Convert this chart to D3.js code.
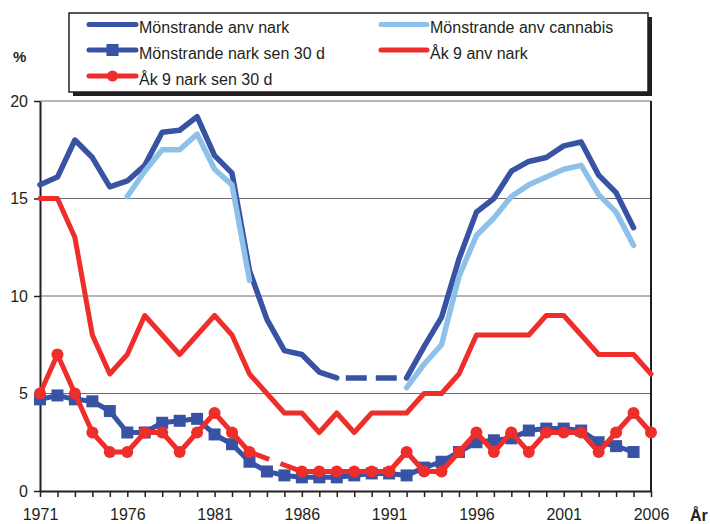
<!DOCTYPE html>
<html><head><meta charset="utf-8">
<script src="https://cdn.jsdelivr.net/npm/d3@7"></script>
<style>
body{margin:0;background:#fff}
svg{display:block}
text{font-family:"Liberation Sans",Arial,sans-serif;fill:#231f20}
</style>
</head><body>
<svg id="c" width="710" height="524"></svg>
<script>
// ---- data ----
const years = [1971,1972,1973,1974,1975,1976,1977,1978,1979,1980,1981,1982,1983,1984,1985,1986,1987,1988,1989,1990,1991,1992,1993,1994,1995,1996,1997,1998,1999,2000,2001,2002,2003,2004,2005,2006];
const xTickLabels = [1971,1976,1981,1986,1991,1996,2001,2006];
const yTicks = [0,5,10,15,20];
const seriesNames = ["Mönstrande anv nark","Mönstrande anv cannabis","Mönstrande nark sen 30 d","Åk 9 anv nark","Åk 9 nark sen 30 d"];
const monstrandeAnvNark = [15.7,16.1,18.0,17.1,15.6,15.9,16.7,18.4,18.5,19.2,17.2,16.3,11.3,8.8,7.2,7.0,6.1,5.8,null,null,null,5.8,7.4,8.9,11.9,14.3,15.0,16.4,16.9,17.1,17.7,17.9,16.2,15.3,13.5,null];
const monstrandeAnvCannabis = [null,null,null,null,null,15.1,16.4,17.5,17.5,18.3,16.5,15.7,10.8,null,null,null,null,null,null,null,null,5.3,6.5,7.5,11.0,13.1,14.0,15.1,15.7,16.1,16.5,16.7,15.2,14.3,12.6,null];
const monstrandeNarkSen30d = [4.7,4.9,4.7,4.6,4.1,3.0,3.0,3.5,3.6,3.7,2.9,2.4,1.5,1.0,0.8,0.7,0.7,0.7,0.8,0.9,0.9,0.8,1.2,1.5,2.0,2.5,2.6,2.7,3.1,3.2,3.2,3.1,2.5,2.3,2.0,null];
const ak9AnvNark = [15,15,13,8,6,7,9,8,7,8,9,8,6,5,4,4,3,4,3,4,4,4,5,5,6,8,8,8,8,9,9,8,7,7,7,6];
const ak9NarkSen30d = [5,7,5,3,2,2,3,3,2,3,4,3,2,null,null,1,1,1,1,1,1,2,1,1,2,3,2,3,2,3,3,3,2,3,4,3];

// ---- styles ----
const DARK = "#3853a4", LIGHT = "#8ec1e9", RED = "#ee2e2a";
const series = [
  {name: seriesNames[0], values: monstrandeAnvNark, color: DARK, width: 5.5, marker: null, dashGap: true, dashArray: "21,9", dashOffset: 21},
  {name: seriesNames[1], values: monstrandeAnvCannabis, color: LIGHT, width: 5.5, marker: null, dashGap: false},
  {name: seriesNames[2], values: monstrandeNarkSen30d, color: DARK, width: 5, marker: "square", dashGap: false},
  {name: seriesNames[3], values: ak9AnvNark, color: RED, width: 5, marker: null, dashGap: false},
  {name: seriesNames[4], values: ak9NarkSen30d, color: RED, width: 5, marker: "circle", dashGap: true, dashArray: "21,12", dashOffset: 0}
];

const svg = d3.select("#c");
const L = 40, R = 651, T = 101, B = 491;
const x = d3.scaleLinear().domain([years[0], years[years.length-1]]).range([L, R]);
const y = d3.scaleLinear().domain([0, 20]).range([B, T]);

// gridlines
svg.append("g").selectAll("line").data(yTicks.filter(d => d > 0)).join("line")
  .attr("x1", L).attr("x2", R).attr("y1", d => y(d)).attr("y2", d => y(d))
  .attr("stroke", "#6d6d6d").attr("stroke-width", 1);

// right border
svg.append("line").attr("x1", R).attr("x2", R).attr("y1", T).attr("y2", B)
  .attr("stroke", "#231f20").attr("stroke-width", 2);

// axes
const yAxis = svg.append("g").attr("transform", `translate(${L},0)`)
  .call(d3.axisLeft(y).tickValues(yTicks).tickSize(6).tickSizeOuter(0).tickPadding(6));
const xAxis = svg.append("g").attr("transform", `translate(0,${B})`)
  .call(d3.axisBottom(x).tickValues(years).tickSize(6).tickSizeOuter(0).tickPadding(12)
    .tickFormat(d => xTickLabels.includes(d) ? String(d) : ""));
[yAxis, xAxis].forEach(g => {
  g.select(".domain").attr("stroke", "#231f20").attr("stroke-width", 2);
  g.selectAll(".tick line").attr("stroke", "#231f20").attr("stroke-width", 1.5);
  g.selectAll(".tick text").attr("font-size", 16).attr("fill", "#231f20")
   .attr("font-family", '"Liberation Sans",Arial,sans-serif');
});

// axis titles
svg.append("text").attr("x", 13).attr("y", 62).attr("font-size", 15).attr("font-weight", "bold").text("%");
svg.append("text").attr("x", 690).attr("y", 521).attr("font-size", 16).attr("font-weight", "bold").text("År");

// series
const pts = s => years.map((yr, i) => ({yr, v: s.values[i], i}));
const line = d3.line().defined(d => d.v != null).x(d => x(d.yr)).y(d => y(d.v));

series.forEach(s => {
  const p = pts(s);
  const g = svg.append("g");
  // dashed bridges over gaps
  if (s.dashGap) {
    const def = p.filter(d => d.v != null);
    for (let k = 1; k < def.length; k++) {
      if (def[k].i - def[k-1].i > 1) {
        g.append("path").attr("d", d3.line().x(d => x(d.yr)).y(d => y(d.v))([def[k-1], def[k]]))
          .attr("fill", "none").attr("stroke", s.color).attr("stroke-width", s.width)
          .attr("stroke-dasharray", s.dashArray).attr("stroke-dashoffset", s.dashOffset)
          .attr("stroke-linecap", "butt");
      }
    }
  }
  g.append("path").attr("d", line(p)).attr("fill", "none")
    .attr("stroke", s.color).attr("stroke-width", s.width)
    .attr("stroke-linejoin", "round").attr("stroke-linecap", "round");
  const md = p.filter(d => d.v != null);
  if (s.marker === "square") {
    g.selectAll("rect").data(md).join("rect")
      .attr("x", d => x(d.yr) - 6).attr("y", d => y(d.v) - 6)
      .attr("width", 12).attr("height", 12).attr("fill", s.color);
  } else if (s.marker === "circle") {
    g.selectAll("circle").data(md).join("circle")
      .attr("cx", d => x(d.yr)).attr("cy", d => y(d.v)).attr("r", 6).attr("fill", s.color);
  }
});

// legend
const lg = svg.append("g");
const LX = 69, LY = 13, LW = 579, LH = 79;
lg.append("rect").attr("x", LX + 4).attr("y", LY + 4).attr("width", LW).attr("height", LH).attr("fill", "#231f20");
lg.append("rect").attr("x", LX).attr("y", LY).attr("width", LW).attr("height", LH)
  .attr("fill", "#fff").attr("stroke", "#231f20").attr("stroke-width", 1.5);
const legPos = [
  {lx: 89, tx: 139, cy: 24.5, by: 33},
  {lx: 381, tx: 430, cy: 24.5, by: 33},
  {lx: 89, tx: 139, cy: 50, by: 59},
  {lx: 381, tx: 430, cy: 50, by: 59},
  {lx: 89, tx: 139, cy: 76, by: 84.5}
];
series.forEach((s, i) => {
  const p = legPos[i];
  const w = i % 2 === 0 ? 47 : 46;
  lg.append("line").attr("x1", p.lx).attr("x2", p.lx + w).attr("y1", p.cy).attr("y2", p.cy)
    .attr("stroke", s.color).attr("stroke-width", 5).attr("stroke-linecap", "round");
  const mx = p.lx + w / 2;
  if (s.marker === "square") {
    lg.append("rect").attr("x", mx - 6).attr("y", p.cy - 6).attr("width", 12).attr("height", 12).attr("fill", s.color);
  } else if (s.marker === "circle") {
    lg.append("circle").attr("cx", mx).attr("cy", p.cy).attr("r", 5.5).attr("fill", s.color);
  }
  lg.append("text").attr("x", p.tx).attr("y", p.by).attr("font-size", 16).text(s.name);
});
</script>
</body></html>
